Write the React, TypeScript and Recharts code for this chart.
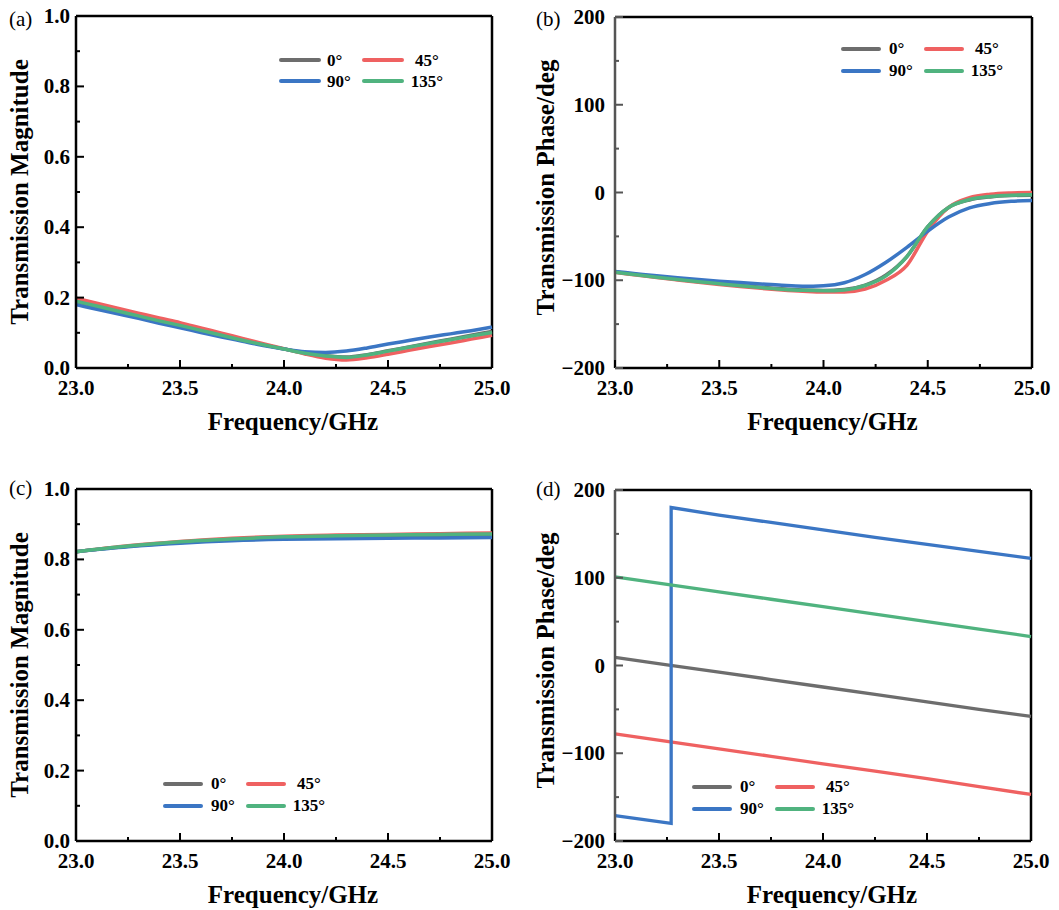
import React from 'react';
import { LineChart, Line, XAxis, YAxis, Legend, ReferenceLine, Label } from 'recharts';

const FONT = '"Liberation Serif", "Times New Roman", serif';

const seriesNames = ['0°', '45°', '90°', '135°'];
const seriesColors = ['#6d6d6d', '#ef6161', '#3b76c4', '#50b37f'];
const seriesKeys = ['s0', 's45', 's90', 's135'];

const freqTicks = [23.0, 23.25, 23.5, 23.75, 24.0, 24.25, 24.5, 24.75, 25.0];
const magTicks = [0, 0.1, 0.2, 0.3, 0.4, 0.5, 0.6, 0.7, 0.8, 0.9, 1.0];
const phaseTicks = [-200, -150, -100, -50, 0, 50, 100, 150, 200];

// (a) / (b) sampled every 0.1 GHz
const freq = [23.0, 23.1, 23.2, 23.3, 23.4, 23.5, 23.6, 23.7, 23.8, 23.9, 24.0, 24.1, 24.2, 24.3, 24.4, 24.5, 24.6, 24.7, 24.8, 24.9, 25.0];

const magA0 = [0.189, 0.175, 0.161, 0.147, 0.133, 0.119, 0.106, 0.092, 0.079, 0.066, 0.054, 0.043, 0.035, 0.031, 0.038, 0.049, 0.06, 0.071, 0.082, 0.093, 0.104];
const magA45 = [0.198, 0.184, 0.17, 0.156, 0.142, 0.129, 0.114, 0.099, 0.084, 0.069, 0.055, 0.04, 0.028, 0.023, 0.029, 0.039, 0.05, 0.061, 0.071, 0.082, 0.093];
const magA90 = [0.18, 0.167, 0.154, 0.141, 0.127, 0.114, 0.101, 0.088, 0.076, 0.064, 0.054, 0.046, 0.044, 0.048, 0.057, 0.068, 0.078, 0.088, 0.097, 0.106, 0.116];
const magA135 = [0.19, 0.176, 0.162, 0.148, 0.134, 0.121, 0.107, 0.093, 0.079, 0.066, 0.054, 0.042, 0.034, 0.03, 0.037, 0.048, 0.059, 0.07, 0.08, 0.091, 0.101];

const phB0 = [-90.5, -93.3, -96.1, -98.8, -101.3, -103.6, -105.9, -108, -109.8, -111.1, -111.6, -110.5, -105.5, -94, -73, -39, -17, -8.5, -5, -3.5, -3];
const phB45 = [-91, -94, -97, -99.7, -102.3, -104.8, -107.1, -109.2, -111, -112.5, -113.5, -113.3, -110, -100, -83, -44, -17, -6, -2, -0.5, 0];
const phB90 = [-90, -92.5, -95, -97.2, -99.2, -101, -102.7, -104.3, -105.8, -106.8, -106.2, -102.8, -93.5, -79.5, -62.5, -44, -28, -17.5, -12.5, -10, -9];
const phB135 = [-91, -93.7, -96.5, -99.2, -101.7, -104, -106.3, -108.4, -110.2, -111.5, -112, -111, -106, -95, -73, -39, -17, -8, -4.5, -3, -2.5];

// (c) sampled every 0.25 GHz
const freqC = [23.0, 23.25, 23.5, 23.75, 24.0, 24.25, 24.5, 24.75, 25.0];
const magC0 = [0.822, 0.837, 0.848, 0.855, 0.86, 0.863, 0.865, 0.866, 0.867];
const magC45 = [0.822, 0.839, 0.851, 0.86, 0.866, 0.869, 0.871, 0.873, 0.875];
const magC90 = [0.822, 0.836, 0.846, 0.853, 0.857, 0.859, 0.86, 0.861, 0.862];
const magC135 = [0.822, 0.838, 0.85, 0.858, 0.864, 0.867, 0.869, 0.871, 0.872];

// (d) phase, 90° wraps at 23.27 GHz
const freqD = [23.0, 23.25, 23.5, 23.75, 24.0, 24.25, 24.5, 24.75, 25.0];
const phD0 = [9.3, 0.8, -7.5, -16, -24.5, -33, -41.5, -50, -58];
const phD45 = [-78, -86.5, -95, -103.5, -112, -120.5, -129, -138, -147];
const phD135 = [101, 92.5, 84, 75.5, 67, 58.5, 50, 41.5, 33];
const freqD90 = [23.0, 23.27, 23.27, 23.5, 23.75, 24.0, 24.25, 24.5, 24.75, 25.0];
const phD90 = [-171, -180, 180, 171.5, 163, 154.5, 146, 138, 130, 122];

const toRows = (xs: number[], ys: number[]) => xs.map((f, i) => ({ f, v: ys[i] }));

const seriesA = [magA0, magA45, magA90, magA135].map((s) => toRows(freq, s));
const seriesB = [phB0, phB45, phB90, phB135].map((s) => toRows(freq, s));
const seriesC = [magC0, magC45, magC90, magC135].map((s) => toRows(freqC, s));
const seriesD = [toRows(freqD, phD0), toRows(freqD, phD45), toRows(freqD90, phD90), toRows(freqD, phD135)];

const isMajorX = (v: number) => Math.abs(v * 2 - Math.round(v * 2)) < 1e-6;

const XTick = (props: any) => {
  const { x, y, payload } = props;
  const v = payload.value;
  const major = isMajorX(v);
  return (
    <g>
      <line x1={x} x2={x} y1={y} y2={y - (major ? 8 : 4)} stroke="#000" strokeWidth={2} />
      {major && (
        <text x={x} y={y + 27} textAnchor="middle" fontFamily={FONT} fontWeight="bold" fontSize={21} fill="#000">
          {v.toFixed(1)}
        </text>
      )}
    </g>
  );
};

const makeYTick = (majors: number[], fmt: (v: number) => string, gap: number, color: string) => (props: any) => {
  const { x, y, payload } = props;
  const v = payload.value;
  const major = majors.some((m) => Math.abs(m - v) < 1e-6);
  return (
    <g>
      <line x1={x} x2={x + (major ? 8 : 4)} y1={y} y2={y} stroke={color} strokeWidth={2} />
      {major && (
        <text x={x - gap} y={y + 7} textAnchor="end" fontFamily={FONT} fontWeight="bold" fontSize={21} fill="#000">
          {fmt(v)}
        </text>
      )}
    </g>
  );
};

const fmtMag = (v: number) => v.toFixed(1);
const fmtPhase = (v: number) => (v < 0 ? '\u2212' + Math.abs(v) : String(v));

const makeLegend = (lineLen: number, gap: number) => () => (
  <div style={{ position: 'relative', width: 180, height: gap * 2, fontFamily: FONT, fontWeight: 'bold', fontSize: 17, color: '#000' }}>
    {seriesNames.map((n, i) => {
      const col = i % 2;
      const row = Math.floor(i / 2);
      return (
        <div key={n} style={{ position: 'absolute', left: col * 83, top: row * gap, height: gap, width: 90 }}>
          <div style={{ position: 'absolute', left: 0, top: gap / 2 - 2, width: lineLen, height: 4, borderRadius: 2, background: seriesColors[i] }} />
          <div
            style={{
              position: 'absolute',
              left: col === 0 ? 48 : lineLen + 6,
              width: col === 0 ? 40 : 34,
              textAlign: col === 0 ? 'left' : 'center',
              top: 0,
              lineHeight: gap + 'px',
              whiteSpace: 'nowrap',
            }}
          >
            {n}
          </div>
        </div>
      );
    })}
  </div>
);

type PanelProps = {
  letter: string;
  left: number;
  top: number;
  width: number;
  margin: { top: number; right: number; bottom: number; left: number };
  series: { f: number; v: number }[][];
  yDomain: [number, number];
  yTicks: number[];
  yMajors: number[];
  fmt: (v: number) => string;
  tickGap: number;
  yTitle: string;
  yTitleOffset: number;
  yTitleDy: number;
  axisColor: string;
  curve: 'monotone' | 'linear';
  strokeWidth: number;
  legend: { left: number; top: number; lineLen: number; gap: number };
  letterBaseline: number;
};

const Panel = (p: PanelProps) => {
  const xTitle = (props: any) => {
    const vb = props.viewBox;
    return (
      <text x={vb.x + vb.width / 2 + 9} y={vb.y + 62} textAnchor="middle" fontFamily={FONT} fontWeight="bold" fontSize={25} fill="#000">
        Frequency/GHz
      </text>
    );
  };
  const yTitle = (props: any) => {
    const vb = props.viewBox;
    const cx = vb.x + vb.width - p.yTitleOffset;
    const cy = vb.y + vb.height / 2 + p.yTitleDy;
    return (
      <text x={cx} y={cy} transform={`rotate(-90 ${cx} ${cy})`} textAnchor="middle" fontFamily={FONT} fontWeight="bold" fontSize={25} fill="#000">
        {p.yTitle}
      </text>
    );
  };
  return (
    <div style={{ position: 'absolute', left: p.left, top: p.top, width: p.width, height: 455 }}>
      <div
        style={{
          position: 'absolute',
          left: p.letter === '(a)' || p.letter === '(c)' ? 9 : 6,
          top: p.letterBaseline - 17.6,
          fontFamily: FONT,
          fontSize: 21,
          lineHeight: '21px',
          color: '#000',
          zIndex: 2,
        }}
      >
        {p.letter}
      </div>
      <LineChart width={p.width} height={455} margin={p.margin}>
        <XAxis
          dataKey="f"
          type="number"
          domain={[23, 25]}
          ticks={freqTicks}
          interval={0}
          height={30}
          tickSize={0}
          tickMargin={0}
          tickLine={false}
          tick={<XTick />}
          axisLine={{ stroke: '#000', strokeWidth: 2.5 }}
          allowDuplicatedCategory={false}
        >
          <Label content={xTitle} />
        </XAxis>
        <YAxis
          type="number"
          domain={p.yDomain}
          ticks={p.yTicks}
          interval={0}
          width={60}
          tickSize={0}
          tickMargin={0}
          tickLine={false}
          tick={makeYTick(p.yMajors, p.fmt, p.tickGap, p.axisColor)}
          axisLine={{ stroke: p.axisColor, strokeWidth: 2.5 }}
          allowDataOverflow
        >
          <Label content={yTitle} />
        </YAxis>
        <ReferenceLine y={p.yDomain[1]} stroke="#000" strokeWidth={2.5} />
        <ReferenceLine x={25} stroke="#000" strokeWidth={2.5} />
        {p.series.map((rows, i) => (
          <Line
            key={seriesKeys[i]}
            data={rows}
            dataKey="v"
            name={seriesNames[i]}
            type={p.curve}
            stroke={seriesColors[i]}
            strokeWidth={p.strokeWidth}
            dot={false}
            activeDot={false}
            isAnimationActive={false}
          />
        ))}
        <Legend
          layout="horizontal"
          verticalAlign="middle"
          align="center"
          content={makeLegend(p.legend.lineLen, p.legend.gap)}
          wrapperStyle={{ left: p.legend.left, top: p.legend.top, width: 180 }}
        />
      </LineChart>
    </div>
  );
};

export default function App() {
  return (
    <div style={{ position: 'absolute', left: 0, top: 0, width: 1059, height: 910, background: '#fff', overflow: 'hidden' }}>
      <Panel
        letter="(a)"
        left={0}
        top={0}
        width={530}
        margin={{ top: 16, right: 38, bottom: 57, left: 16 }}
        series={seriesA}
        yDomain={[0, 1]}
        yTicks={magTicks}
        yMajors={[0, 0.2, 0.4, 0.6, 0.8, 1.0]}
        fmt={fmtMag}
        tickGap={6}
        yTitle="Transmission Magnitude"
        yTitleOffset={48}
        yTitleDy={0}
        axisColor="#000"
        curve="monotone"
        strokeWidth={3.5}
        legend={{ left: 279, top: 60 - 10.5, lineLen: 42, gap: 21 }}
        letterBaseline={27}
      />
      <Panel
        letter="(b)"
        left={530}
        top={0}
        width={529}
        margin={{ top: 17, right: 27, bottom: 57, left: 25 }}
        series={seriesB}
        yDomain={[-200, 200]}
        yTicks={phaseTicks}
        yMajors={[-200, -100, 0, 100, 200]}
        fmt={fmtPhase}
        tickGap={10}
        yTitle="Transmission Phase/deg"
        yTitleOffset={61}
        yTitleDy={-5}
        axisColor="#555"
        curve="monotone"
        strokeWidth={3.5}
        legend={{ left: 311, top: 49 - 11, lineLen: 40, gap: 22 }}
        letterBaseline={27}
      />
      <Panel
        letter="(c)"
        left={0}
        top={455}
        width={530}
        margin={{ top: 34, right: 38, bottom: 39, left: 16 }}
        series={seriesC}
        yDomain={[0, 1]}
        yTicks={magTicks}
        yMajors={[0, 0.2, 0.4, 0.6, 0.8, 1.0]}
        fmt={fmtMag}
        tickGap={6}
        yTitle="Transmission Magnitude"
        yTitleOffset={48}
        yTitleDy={0}
        axisColor="#000"
        curve="monotone"
        strokeWidth={3.5}
        legend={{ left: 163, top: 784 - 455 - 11, lineLen: 40, gap: 22 }}
        letterBaseline={41}
      />
      <Panel
        letter="(d)"
        left={530}
        top={455}
        width={529}
        margin={{ top: 35, right: 28, bottom: 39, left: 25 }}
        series={seriesD}
        yDomain={[-200, 200]}
        yTicks={phaseTicks}
        yMajors={[-200, -100, 0, 100, 200]}
        fmt={fmtPhase}
        tickGap={10}
        yTitle="Transmission Phase/deg"
        yTitleOffset={61}
        yTitleDy={-5}
        axisColor="#555"
        curve="linear"
        strokeWidth={3.3}
        legend={{ left: 162, top: 787 - 455 - 11, lineLen: 40, gap: 22 }}
        letterBaseline={42}
      />
    </div>
  );
}
